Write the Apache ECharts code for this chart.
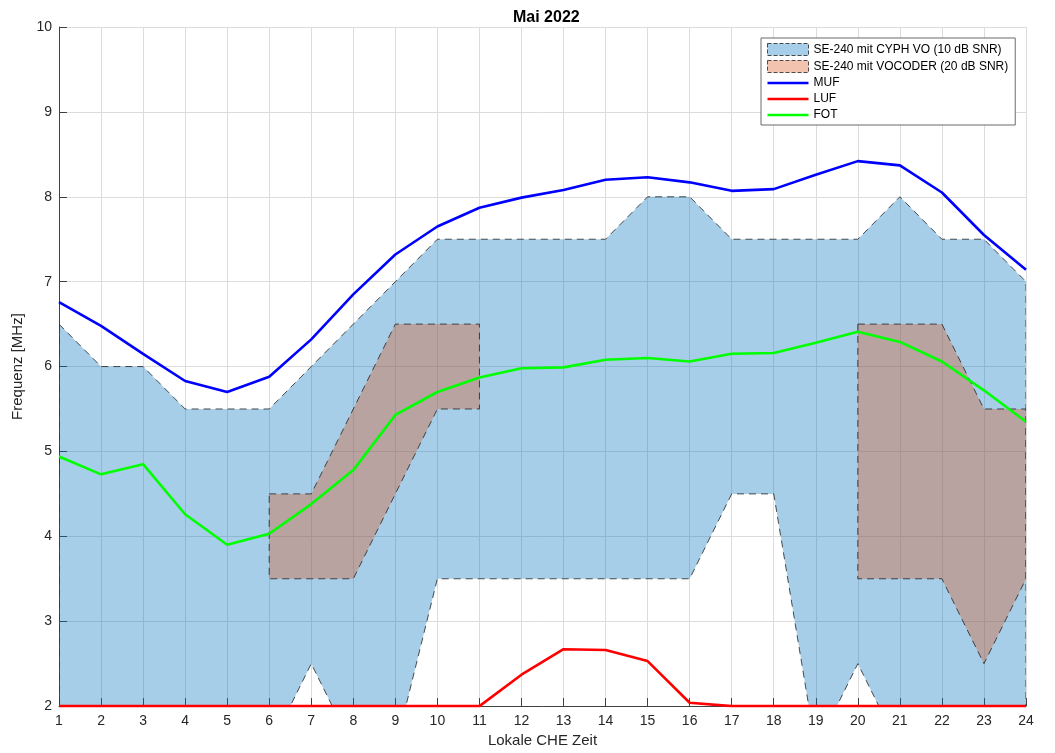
<!DOCTYPE html>
<html>
<head>
<meta charset="utf-8">
<script src="https://cdn.jsdelivr.net/npm/echarts@6/dist/echarts.min.js"></script>
<style>
  html, body { margin: 0; padding: 0; background: #fff; }
  #main { width: 1055px; height: 753px; }
</style>
</head>
<body>
<div id="main"></div>
<script type="text/javascript">
	// Stunden (Lokale CHE Zeit)
	var hours = [1, 2, 3, 4, 5, 6, 7, 8, 9, 10, 11, 12, 13, 14, 15, 16, 17, 18, 19, 20, 21, 22, 23, 24];
	var mufVals = [6.76, 6.48, 6.15, 5.83, 5.70, 5.88, 6.32, 6.85, 7.32, 7.65, 7.87, 7.99, 8.08, 8.20, 8.23, 8.17, 8.07, 8.09, 8.26, 8.42, 8.37, 8.05, 7.55, 7.14];
	var lufVals = [2, 2, 2, 2, 2, 2, 2, 2, 2, 2, 2, 2.37, 2.67, 2.66, 2.53, 2.04, 2, 2, 2, 2, 2, 2, 2, 2];
	var fotVals = [4.94, 4.73, 4.85, 4.26, 3.90, 4.03, 4.38, 4.78, 5.43, 5.70, 5.87, 5.98, 5.99, 6.08, 6.10, 6.06, 6.15, 6.16, 6.28, 6.41, 6.29, 6.06, 5.72, 5.35];

	// Bereich SE-240 mit CYPH VO (10 dB SNR)
	var cyphUpper = [6.5, 6.0, 6.0, 5.5, 5.5, 5.5, 6.0, 6.5, 7.0, 7.5, 7.5, 7.5, 7.5, 7.5, 8.0, 8.0, 7.5, 7.5, 7.5, 7.5, 8.0, 7.5, 7.5, 7.0];
	var cyphLower = [1.5, 1.5, 1.5, 1.5, 1.5, 1.5, 2.5, 1.5, 1.5, 3.5, 3.5, 3.5, 3.5, 3.5, 3.5, 3.5, 4.5, 4.5, 1.5, 2.5, 1.5, 1.5, 1.5, 1.5];

	// Bereich SE-240 mit VOCODER (20 dB SNR), zwei Abschnitte
	var vocHoursA = [6, 7, 8, 9, 10, 11];
	var vocUpperA = [4.5, 4.5, 5.5, 6.5, 6.5, 6.5];
	var vocLowerA = [3.5, 3.5, 3.5, 4.5, 5.5, 5.5];
	var vocHoursB = [20, 21, 22, 23, 24];
	var vocUpperB = [6.5, 6.5, 6.5, 5.5, 5.5];
	var vocLowerB = [3.5, 3.5, 3.5, 2.5, 3.5];

	var nameCyph = 'SE-240 mit CYPH VO (10 dB SNR)';
	var nameVoc = 'SE-240 mit VOCODER (20 dB SNR)';
	var blueFill = 'rgba(0,114,189,0.35)';
	var brownFill = 'rgba(217,83,25,0.35)';
	var edgeColor = 'rgba(35,35,35,0.8)';
	var fontFam = '"Liberation Sans", Arial, Helvetica, sans-serif';
	// schmaler Balken als Legendensymbol fuer die Linien
	var lineIcon = 'path://M0,0 H41 V2.5 H0 Z';

	function band(xs, upper, lower) {
		var top = xs.map(function(x, i) { return [x, upper[i]]; });
		var bottom = xs.map(function(x, i) { return [x, lower[i]]; }).reverse();
		return top.concat(bottom);
	}

	function polygonRenderer(polys, fill) {
		return function(params, api) {
			if (params.dataIndex !== 0) return null;
			var cs = params.coordSys;
			var children = polys.map(function(poly) {
				return {
					type : 'polygon',
					shape : { points : poly.map(function(p) { return api.coord(p); }) },
					style : { fill : fill, stroke : edgeColor, lineWidth : 1, lineDash : [7, 5] }
				};
			});
			return {
				type : 'group',
				children : children,
				clipPath : { type : 'rect', shape : { x : cs.x, y : cs.y, width : cs.width, height : cs.height } }
			};
		};
	}

	function lineSeries(name, vals, color) {
		return {
			name : name,
			type : 'line',
			data : hours.map(function(h, i) { return [h, vals[i]]; }),
			symbol : 'none',
			lineStyle : { color : color, width : 2.6 },
			itemStyle : { color : color },
			z : 5
		};
	}

	var myChart = echarts.init(document.getElementById('main'));
	var option = {
		animation : false,
		backgroundColor : '#fff',
		textStyle : { fontFamily : fontFam },
		title : {
			text : 'Mai 2022',
			left : 508,
			top : 5,
			textStyle : { fontSize : 16, fontWeight : 'bold', color : '#000', fontFamily : fontFam }
		},
		legend : {
			orient : 'vertical',
			left : 761,
			top : 38,
			padding : [5, 7, 4, 6],
			itemWidth : 41,
			itemHeight : 12,
			itemGap : 4,
			backgroundColor : '#fff',
			borderColor : '#6b6b6b',
			borderWidth : 1,
			textStyle : { fontSize : 12, color : '#000', fontFamily : fontFam },
			data : [
				{ name : nameCyph, icon : 'rect', itemStyle : { color : blueFill, borderColor : edgeColor, borderWidth : 1, borderType : 'dashed' } },
				{ name : nameVoc, icon : 'rect', itemStyle : { color : brownFill, borderColor : edgeColor, borderWidth : 1, borderType : 'dashed' } },
				{ name : 'MUF', icon : lineIcon },
				{ name : 'LUF', icon : lineIcon },
				{ name : 'FOT', icon : lineIcon }
			]
		},
		grid : { left : 59, right : 29, top : 27, bottom : 43 },
		xAxis : {
			type : 'value',
			min : 1,
			max : 24,
			interval : 1,
			name : 'Lokale CHE Zeit',
			nameLocation : 'middle',
			nameGap : 25,
			nameTextStyle : { fontSize : 15, color : '#262626' },
			axisLine : { lineStyle : { color : '#404040', width : 1 } },
			axisTick : { inside : true, length : 8, lineStyle : { color : '#404040' } },
			axisLabel : { fontSize : 14, color : '#262626', margin : 8 },
			splitLine : { show : true, lineStyle : { color : '#dcdcdc', width : 1 } }
		},
		yAxis : {
			type : 'value',
			min : 2,
			max : 10,
			interval : 1,
			name : 'Frequenz [MHz]',
			nameLocation : 'middle',
			nameGap : 30,
			nameTextStyle : { fontSize : 15, color : '#262626' },
			axisLine : { show : true, lineStyle : { color : '#404040', width : 1 } },
			axisTick : { show : true, inside : true, length : 8, lineStyle : { color : '#404040' } },
			axisLabel : { fontSize : 14, color : '#262626', margin : 7 },
			splitLine : { show : true, lineStyle : { color : '#dcdcdc', width : 1 } }
		},
		series : [
			{
				name : nameCyph,
				type : 'custom',
				clip : true,
				data : [[1, 2]],
				itemStyle : { color : blueFill },
				renderItem : polygonRenderer([band(hours, cyphUpper, cyphLower)], blueFill),
				z : 2
			},
			{
				name : nameVoc,
				type : 'custom',
				clip : true,
				data : [[1, 2]],
				itemStyle : { color : brownFill },
				renderItem : polygonRenderer([band(vocHoursA, vocUpperA, vocLowerA), band(vocHoursB, vocUpperB, vocLowerB)], brownFill),
				z : 3
			},
			lineSeries('MUF', mufVals, '#0000ff'),
			lineSeries('LUF', lufVals, '#ff0000'),
			lineSeries('FOT', fotVals, '#00ff00')
		]
	};
	myChart.setOption(option);
</script>
</body>
</html>
